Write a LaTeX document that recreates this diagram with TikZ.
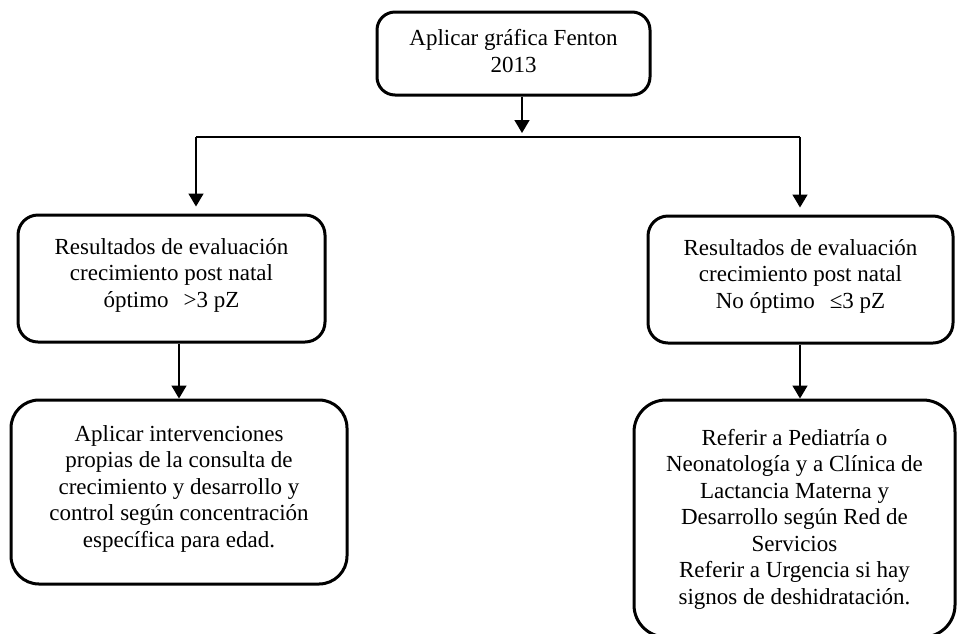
\documentclass[tikz,border=0pt]{standalone}
\usepackage{fontspec}
\setmainfont{Liberation Serif}
\usetikzlibrary{arrows.meta,calc}
\newcommand{\mylines}[2]{\raisebox{#1}[\height][\depth]{\begin{tabular}{@{}c@{}}#2\end{tabular}}}
\begin{document}
\begin{tikzpicture}[x=1pt,y=-1pt,
  box/.style={draw=black,line width=3pt,rounded corners=#1,inner sep=0pt,anchor=center,
    font=\fontsize{23}{26.5}\selectfont},
  box/.default=20pt,
  arr/.style={line width=1.6pt,-{Triangle[width=15pt,length=13pt]}},
  ln/.style={line width=1.6pt}]
\useasboundingbox (0,0) rectangle (958,633);
\clip (0,0) rectangle (958,633);
\node[box=18pt,minimum width=273pt,minimum height=83pt] (top) at (513.5,53.5)
  {\mylines{0pt}{Aplicar gráfica Fenton\\2013}};
\node[box=20pt,minimum width=307pt,minimum height=127pt] (l1) at (171.5,278.5)
  {\mylines{3pt}{Resultados de evaluación\\crecimiento post natal\\óptimo\hspace{0.4em} >3 pZ}};
\node[box=28pt,minimum width=336pt,minimum height=184pt] (l2) at (179,492)
  {\mylines{3pt}{Aplicar intervenciones\\propias de la consulta de\\crecimiento y desarrollo y\\control según concentración\\específica para edad.}};
\node[box=20pt,minimum width=305pt,minimum height=127pt] (r1) at (800.5,279.5)
  {\mylines{3pt}{Resultados de evaluación\\crecimiento post natal\\No óptimo\hspace{0.4em} ≤3 pZ}};
\node[box=32pt,minimum width=321pt,minimum height=237pt] (r2) at (794.5,518.5)
  {\mylines{-1pt}{Referir a Pediatría o\\Neonatología y a Clínica de\\Lactancia Materna y\\Desarrollo según Red de\\Servicios\\Referir a Urgencia si hay\\signos de deshidratación.}};
\coordinate (j) at (522,137);
\coordinate (jl) at (196,137);
\coordinate (jr) at (800,137);
\draw[arr,shorten >=4pt] (top.south -| j) -- (j);
\draw[ln] (jl) -- (jr);
\draw[arr,shorten >=7pt] (jl) -- (jl |- l1.north);
\draw[arr,shorten >=7pt] (jr) -- (jr |- r1.north);
\draw[arr] (l1.south -| 179,0) -- (l2.north -| 179,0);
\draw[arr] (r1.south -| 800,0) -- (r2.north -| 800,0);
\end{tikzpicture}
\end{document}
